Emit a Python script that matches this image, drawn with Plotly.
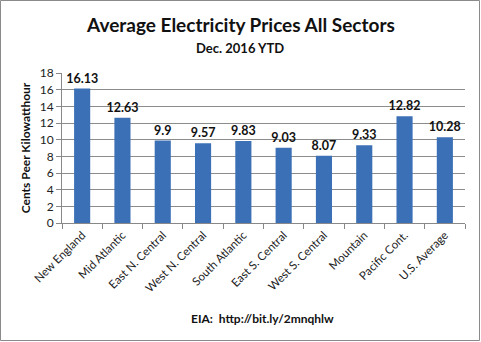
import plotly.graph_objects as go

regions = ["New England", "Mid Atlantic", "East N. Central", "West N. Central",
           "South Atlantic", "East S. Central", "West S. Central", "Mountain",
           "Pacific Cont.", "U.S. Average"]
prices = [16.13, 12.63, 9.9, 9.57, 9.83, 9.03, 8.07, 9.33, 12.82, 10.28]
price_labels = ["16.13", "12.63", "9.9", "9.57", "9.83", "9.03", "8.07", "9.33", "12.82", "10.28"]
y_ticks = [0, 2, 4, 6, 8, 10, 12, 14, 16, 18]

W, H = 481, 342
L, R, T, B = 62, 16, 73, 119
pw, ph = W - L - R, H - T - B

def px(x):
    return (x - L) / pw

def py(y):
    return (H - B - y) / ph

FONT = "Lato"

fig = go.Figure(go.Bar(
    x=regions, y=prices,
    marker=dict(color="#3b70b6", line=dict(width=0)),
    text=price_labels, textposition="outside", cliponaxis=False,
    constraintext="none",
    textfont=dict(family=FONT, size=12.5, color="#111111", weight="bold"),
    width=0.4,
))

fig.update_layout(
    width=W, height=H,
    margin=dict(l=L, r=R, t=T, b=B),
    paper_bgcolor="white", plot_bgcolor="white",
    showlegend=False,
    font=dict(family=FONT, color="#222222"),
    xaxis=dict(
        range=[-0.5, 9.5], tickangle=-45, tickfont=dict(size=11.5, color="#222222"),
        showline=True, linecolor="#888888", linewidth=1,
        ticks="outside", ticklen=5, tickcolor="#888888", tickson="boundaries",
        showgrid=False,
    ),
    yaxis=dict(
        range=[0, 18], tickvals=y_ticks, tickfont=dict(size=12, color="#222222"),
        showline=True, linecolor="#888888", linewidth=1,
        ticks="outside", ticklen=5, tickcolor="#888888",
        showgrid=True, gridcolor="#8c8c8c", gridwidth=1, zeroline=False,
        title=dict(text="Cents Peer Kilowatthour",
                   font=dict(size=12, color="#111111", weight="bold"), standoff=6),
    ),
    annotations=[
        dict(text="<b>Average Electricity Prices All Sectors</b>", x=px(240), y=py(25),
             xref="paper", yref="paper", showarrow=False, yanchor="middle",
             font=dict(size=19, color="#111111")),
        dict(text="<b>Dec. 2016 YTD</b>", x=px(240), y=py(48),
             xref="paper", yref="paper", showarrow=False, yanchor="middle",
             font=dict(size=13, color="#111111")),
        dict(text="<b>EIA:  http://bit.ly/2mnqhlw</b>", x=px(262), y=py(318),
             xref="paper", yref="paper", showarrow=False, yanchor="middle",
             font=dict(size=12, color="#111111")),
    ],
    shapes=[
        dict(type="rect", xref="paper", yref="paper",
             x0=px(0.5), x1=px(W - 1.5), y0=py(H - 1.5), y1=py(0.5),
             line=dict(color="#8a8a8a", width=1), layer="below"),
    ],
)

fig.write_html("out.html")
